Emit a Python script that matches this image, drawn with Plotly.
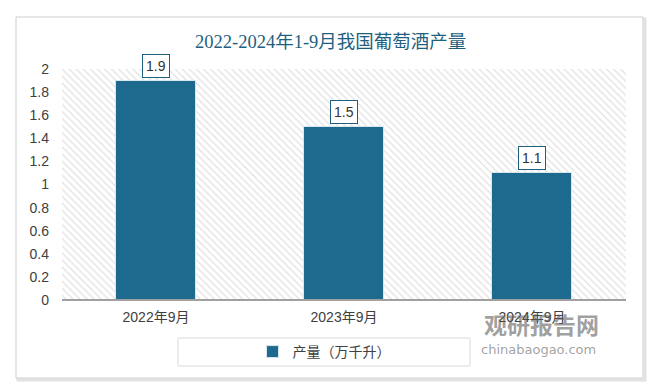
import plotly.graph_objects as go

categories = ["2022年9月", "2023年9月", "2024年9月"]
values = [1.9, 1.5, 1.1]
series_name = "产量（万千升）"
title_text = "2022-2024年1-9月我国葡萄酒产量"
y_ticks = [0, 0.2, 0.4, 0.6, 0.8, 1, 1.2, 1.4, 1.6, 1.8, 2]
y_max = 2

# page body has an 8px margin: figure is drawn from (8,8)
OFF = 8
W, H = 660 - OFF, 392 - OFF
def px(x):
    return (x - OFF) / W
def py(y):
    return 1 - (y - OFF) / H

BAR = "#1d6a8e"
TEAL = "#1f5f80"
TXT = "#404040"
CJK_SANS = "Liberation Sans, Noto Sans CJK SC"
CJK_SERIF = "Liberation Serif, Noto Sans CJK SC"

fig = go.Figure()

# hatched background spanning plot area
fig.add_trace(go.Bar(
    x=categories, y=[y_max] * len(categories), width=1,
    marker=dict(color="white", line=dict(width=0),
                pattern=dict(shape="\\", fgcolor="#c8c8c8", bgcolor="white", size=5, solidity=0.28)),
    showlegend=False, hoverinfo="skip",
))

fig.add_trace(go.Bar(
    x=categories, y=values, name=series_name, width=0.43,
    marker=dict(color=BAR, line=dict(color="#d8e6ee", width=1)),
))

for c, v in zip(categories, values):
    fig.add_annotation(x=c, y=v, text=str(v), showarrow=False, yanchor="bottom", yshift=3,
                       font=dict(family=CJK_SANS, size=14, color="#333333"),
                       bordercolor=TEAL, borderwidth=1, borderpad=3, bgcolor="white")

# title
fig.add_annotation(xref="paper", yref="paper", x=px(330), y=py(42), xanchor="center", yanchor="middle",
                   text=title_text, showarrow=False, font=dict(family=CJK_SERIF, size=18.5, color=TEAL))

# watermark
fig.add_annotation(xref="paper", yref="paper", x=px(541), y=py(324), xanchor="center", yanchor="middle",
                   text="<b>观研报告网</b>", showarrow=False,
                   font=dict(family="Noto Sans CJK SC", size=23, color="rgba(95,95,95,0.6)"))
fig.add_annotation(xref="paper", yref="paper", x=px(538), y=py(349), xanchor="center", yanchor="middle",
                   text="chinabaogao.com", showarrow=False,
                   font=dict(family="DejaVu Sans", size=13, color="rgba(95,95,95,0.6)"))

shapes = [
    dict(type="rect", xref="paper", yref="paper", x0=px(18), x1=px(645), y0=py(380), y1=py(19),
         line=dict(color="#e2e2e2", width=3), layer="below"),
    dict(type="rect", xref="paper", yref="paper", x0=px(16), x1=px(643), y0=py(378), y1=py(17),
         line=dict(color="#cfcfcf", width=1), fillcolor="white", layer="below"),
    dict(type="rect", xref="paper", yref="paper", x0=px(178), x1=px(470), y0=py(366), y1=py(338),
         line=dict(color="#d9d9d9", width=1)),
    dict(type="line", xref="paper", yref="paper", x0=px(62), x1=px(626), y0=py(300), y1=py(300),
         line=dict(color="#a0a0a0", width=2)),
]

fig.update_layout(
    width=W, height=H,
    margin=dict(l=0, r=0, t=0, b=0),
    paper_bgcolor="white", plot_bgcolor="white",
    barmode="overlay", bargap=0,
    shapes=shapes,
    showlegend=True,
    legend=dict(orientation="h", x=px(324), xanchor="center", y=py(352), yanchor="middle",
                font=dict(family=CJK_SERIF, size=14, color=TXT), bgcolor="rgba(0,0,0,0)",
                itemwidth=30),
    xaxis=dict(domain=[px(62), px(626)], range=[-0.5, 2.5], automargin=False,
               showgrid=False, showline=False, zeroline=False, ticks="",
               tickfont=dict(family=CJK_SANS, size=14, color=TXT), ticklabelstandoff=7),
    yaxis=dict(domain=[py(300), py(69)], range=[0, y_max], automargin=False,
               tickvals=y_ticks, ticktext=[f"{t:g}" for t in y_ticks],
               showgrid=False, showline=False, zeroline=False, ticks="",
               tickfont=dict(family=CJK_SANS, size=14, color=TXT), ticklabelstandoff=12),
)

fig.write_html("out.html")
